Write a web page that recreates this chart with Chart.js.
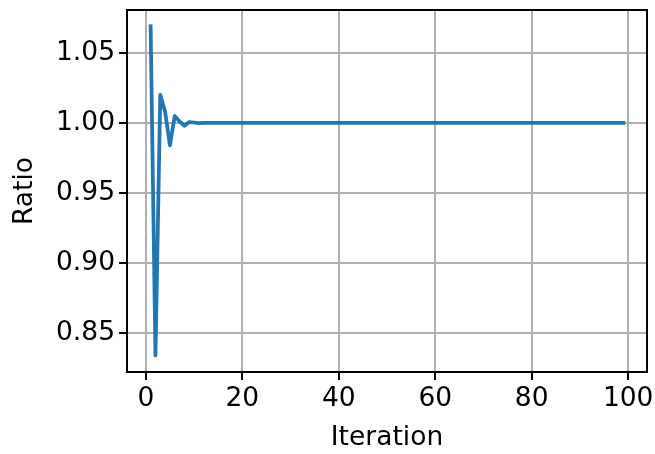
<!DOCTYPE html>
<html>
<head>
<meta charset="utf-8">
<script src="https://cdn.jsdelivr.net/npm/chart.js@4/dist/chart.umd.min.js"></script>
<style>
  body { margin: 0; background: white; }
  #wrap { width: 655px; height: 454px; }
</style>
</head>
<body>
<div id="wrap"><canvas id="ratioChart" width="655" height="454"></canvas></div>
<script>
// values
const ratio = [
    1.069, 0.834, 1.020, 1.008, 0.984, 1.005, 1.001, 0.998, 1.0006, 1.0003,
    0.9999, 1.0, 1.0, 1.0, 1.0, 1.0, 1.0, 1.0, 1.0, 1.0,
    1.0, 1.0, 1.0, 1.0, 1.0, 1.0, 1.0, 1.0, 1.0, 1.0,
    1.0, 1.0, 1.0, 1.0, 1.0, 1.0, 1.0, 1.0, 1.0, 1.0,
    1.0, 1.0, 1.0, 1.0, 1.0, 1.0, 1.0, 1.0, 1.0, 1.0,
    1.0, 1.0, 1.0, 1.0, 1.0, 1.0, 1.0, 1.0, 1.0, 1.0,
    1.0, 1.0, 1.0, 1.0, 1.0, 1.0, 1.0, 1.0, 1.0, 1.0,
    1.0, 1.0, 1.0, 1.0, 1.0, 1.0, 1.0, 1.0, 1.0, 1.0,
    1.0, 1.0, 1.0, 1.0, 1.0, 1.0, 1.0, 1.0, 1.0, 1.0,
    1.0, 1.0, 1.0, 1.0, 1.0, 1.0, 1.0, 1.0, 1.0
];
const firstIteration = 1;
const xTicks = [0, 20, 40, 60, 80, 100];
const yTicks = [0.85, 0.90, 0.95, 1.00, 1.05];

const points = ratio.map((v, i) => ({ x: firstIteration + i, y: v }));

const font = { family: 'DejaVu Sans', size: 26.5 };

// draws the top and right spines too
const boxPlugin = {
    id: 'box',
    afterDraw(chart) {
        const a = chart.chartArea;
        const c = chart.ctx;
        c.save();
        c.strokeStyle = '#000';
        c.lineWidth = 2;
        c.strokeRect(a.left, a.top, a.right - a.left, a.bottom - a.top);
        c.restore();
    }
};

var ctx = document.getElementById('ratioChart').getContext('2d');
var ratioChart = new Chart(ctx, {
    type: 'line',
    data: {
        datasets: [{
            data: points,
            borderColor: '#1f77b4',
            borderWidth: 3.75,
            borderCapStyle: 'square',
            borderJoinStyle: 'round',
            pointRadius: 0,
            fill: false,
            tension: 0
        }]
    },
    options: {
        responsive: false,
        animation: false,
        layout: { padding: { top: 10, right: 8, left: 0, bottom: 0 } },
        plugins: {
            legend: { display: false },
            tooltip: { enabled: false }
        },
        scales: {
            x: {
                type: 'linear',
                min: -3.9,
                max: 103.9,
                afterBuildTicks: s => { s.ticks = xTicks.map(v => ({ value: v })); },
                afterFit: s => { s.height = 82; s.paddingLeft = 0; s.paddingRight = 0; },
                grid: { color: '#b0b0b0', lineWidth: 2, tickColor: '#000', tickLength: 8 },
                border: { color: '#000', width: 2 },
                ticks: { color: '#000', font: font, padding: 3, maxRotation: 0 },
                title: { display: true, text: 'Iteration', color: '#000', font: font, padding: { top: 0, bottom: 0 } }
            },
            y: {
                min: 0.8222,
                max: 1.0806,
                afterBuildTicks: s => { s.ticks = yTicks.map(v => ({ value: v })); },
                afterFit: s => { s.width = 127; s.paddingTop = 0; s.paddingBottom = 0; },
                grid: { color: '#b0b0b0', lineWidth: 2, tickColor: '#000', tickLength: 8 },
                border: { color: '#000', width: 2 },
                ticks: { color: '#000', font: font, padding: 4, callback: v => v.toFixed(2) },
                title: { display: true, text: 'Ratio', color: '#000', font: font, padding: { top: 9, bottom: 0 } }
            }
        }
    },
    plugins: [boxPlugin]
});
</script>
</body>
</html>
